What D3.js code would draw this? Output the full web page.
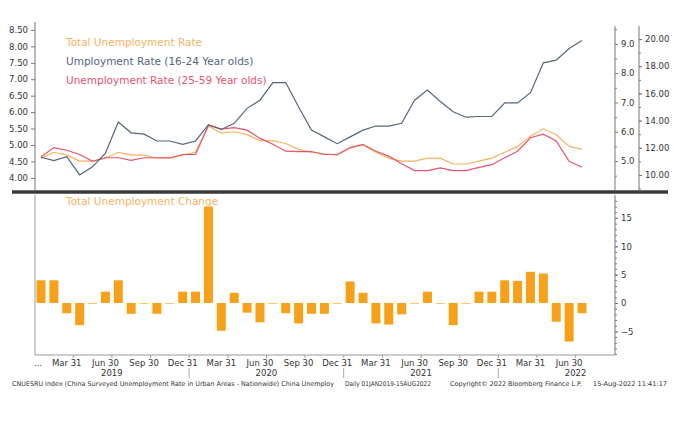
<!DOCTYPE html>
<html>
<head>
<meta charset="utf-8">
<script src="https://cdn.jsdelivr.net/npm/d3@7"></script>
<style>
  body { margin: 0; background: #fff; }
  text { font-family: 'DejaVu Sans', sans-serif; }
</style>
</head>
<body>
<div class="canvas"></div>
<script>
// monthly data, Jan 2019 .. Jul 2022
const months = d3.timeMonths(new Date(2019, 0, 1), new Date(2022, 7, 1));

const totalRate = [5.1, 5.3, 5.2, 5.0, 5.0, 5.1, 5.3, 5.2, 5.2, 5.1, 5.1, 5.2,
  5.3, 6.2, 5.95, 6.0, 5.9, 5.7, 5.7, 5.6, 5.4, 5.3, 5.25, 5.2,
  5.45, 5.55, 5.3, 5.1, 5.0, 5.0, 5.1, 5.1, 4.9, 4.9, 5.0, 5.1,
  5.3, 5.5, 5.85, 6.1, 5.9, 5.5, 5.4];

const youthRate = [11.3, 11.05, 11.35, 10.0, 10.6, 11.6, 13.9, 13.1, 13.0, 12.5, 12.5, 12.25,
  12.5, 13.7, 13.35, 13.8, 14.9, 15.5, 16.8, 16.8, 15.0, 13.3, 12.8, 12.3,
  12.8, 13.3, 13.6, 13.6, 13.8, 15.5, 16.25, 15.4, 14.65, 14.25, 14.3, 14.3,
  15.3, 15.3, 16.05, 18.25, 18.45, 19.3, 19.9];

const primeRate = [4.64, 4.92, 4.84, 4.71, 4.5, 4.61, 4.61, 4.53, 4.61, 4.61, 4.61, 4.71,
  4.71, 5.6, 5.48, 5.53, 5.45, 5.2, 5.02, 4.81, 4.8, 4.8, 4.71, 4.71,
  4.92, 5.02, 4.81, 4.66, 4.43, 4.22, 4.22, 4.3, 4.22, 4.22, 4.32, 4.4,
  4.61, 4.81, 5.22, 5.33, 5.12, 4.5, 4.32];

const totalChange = [4, 4, -1.8, -3.9, 0, 2, 4, -1.9, 0, -1.9, 0, 2,
  2, 17, -4.9, 1.8, -1.7, -3.4, 0, -1.8, -3.6, -1.9, -1.9, 0,
  3.8, 1.8, -3.6, -3.8, -2, 0, 2, 0, -3.9, 0, 2, 2,
  4, 3.9, 5.5, 5.2, -3.3, -6.8, -1.8];

const leftTicks = [4, 4.5, 5, 5.5, 6, 6.5, 7, 7.5, 8, 8.5];
const innerTicks = [5, 6, 7, 8, 9];
const outerTicks = [10, 12, 14, 16, 18, 20];
const changeTicks = [-5, 0, 5, 10, 15];
const quarterLabels = ['Mar 31', 'Jun 30', 'Sep 30', 'Dec 31'];
const years = ['2019', '2020', '2021', '2022'];

const ORANGE = '#f6b35f', BLUE = '#55657e', RED = '#e9546c', BAR = '#f7a11a', INK = '#333';

const svg = d3.select('.canvas').append('svg')
  .attr('width', 700)
  .attr('height', 439);

const x = d3.scaleLinear().domain([0, months.length - 1]).range([41, 582]);
const xl = 35, xr = 615, xr2 = 639;

// top panel scales
const yLeft = d3.scaleLinear().domain([3.69, 8.62]).range([188, 26]);
const yInner = d3.scaleLinear().domain([4.08, 9.61]).range([188, 26]);
const yOuter = d3.scaleLinear().domain([9.04, 20.96]).range([188, 26]);
// bottom panel
const yBar = d3.scaleLinear().domain([-9.17, 18.87]).range([355, 196]);

function fmt(d, n) { return d.toFixed(n); }

// left axis (top)
svg.append('g')
  .attr('transform', `translate(${xl},0)`)
  .call(d3.axisLeft(yLeft).tickValues(leftTicks).tickFormat(d => fmt(d, 2)).tickSize(4))
  .call(g => g.select('.domain').attr('d', 'M0,22V190'));

// inner right axis
svg.append('g')
  .attr('transform', `translate(${xr},0)`)
  .call(d3.axisRight(yInner).tickValues(innerTicks).tickFormat(d => fmt(d, 1)).tickSize(3))
  .call(g => g.select('.domain').attr('d', 'M0,26V190'));
svg.append('g')
  .attr('transform', `translate(${xr},0)`)
  .call(d3.axisRight(yInner).tickValues(d3.range(4.5, 9.6, 1)).tickFormat('').tickSize(2))
  .call(g => g.select('.domain').remove());

// outer right axis
svg.append('g')
  .attr('transform', `translate(${xr2},0)`)
  .call(d3.axisRight(yOuter).tickValues(outerTicks).tickFormat(d => fmt(d, 2)).tickSize(3))
  .call(g => g.select('.domain').attr('d', 'M0,26V190'));
svg.append('g')
  .attr('transform', `translate(${xr2},0)`)
  .call(d3.axisRight(yOuter).tickValues(d3.range(9, 21, 1)).tickFormat('').tickSize(2))
  .call(g => g.select('.domain').remove());

// lines
const line = (scale) => d3.line().x((d, i) => x(i)).y(d => scale(d));
svg.append('path').datum(totalRate).attr('d', line(yInner))
  .attr('fill', 'none').attr('stroke', ORANGE).attr('stroke-width', 1.2);
svg.append('path').datum(primeRate).attr('d', line(yLeft))
  .attr('fill', 'none').attr('stroke', RED).attr('stroke-width', 1.2);
svg.append('path').datum(youthRate).attr('d', line(yOuter))
  .attr('fill', 'none').attr('stroke', BLUE).attr('stroke-width', 1.2);

// legend
const legend = [['Total Unemployment Rate', ORANGE], ['Umployment Rate (16-24 Year olds)', BLUE], ['Unemployment Rate (25-59 Year olds)', RED]];
svg.selectAll('.leg').data(legend).enter().append('text')
  .attr('x', 66).attr('y', (d, i) => 46 + i * 19)
  .attr('fill', d => d[1]).style('font-size', '10.5px')
  .text(d => d[0]);

// separator
svg.append('line').attr('x1', 12).attr('x2', 668).attr('y1', 192).attr('y2', 192)
  .attr('stroke', '#3a3a3a').attr('stroke-width', 3.5);

// bottom panel axes
svg.append('line').attr('x1', xl).attr('x2', xl).attr('y1', 195).attr('y2', 355).attr('stroke', '#999');
svg.append('g')
  .attr('transform', `translate(${xr},0)`)
  .call(d3.axisRight(yBar).tickValues(changeTicks).tickFormat(d3.format('d')).tickSize(3))
  .call(g => g.select('.domain').attr('d', 'M0,195V355'));
svg.append('g')
  .attr('transform', `translate(${xr},0)`)
  .call(d3.axisRight(yBar).tickValues(d3.range(-9, 19, 1)).tickFormat('').tickSize(2))
  .call(g => g.select('.domain').remove());

// bars
svg.selectAll('.bar').data(totalChange).enter().append('rect')
  .attr('x', (d, i) => x(i) - 4.5)
  .attr('width', 9)
  .attr('y', d => yBar(Math.max(0, d)))
  .attr('height', d => Math.max(0.6, Math.abs(yBar(d) - yBar(0))))
  .attr('fill', BAR);

svg.append('text').attr('x', 66).attr('y', 205).attr('fill', ORANGE)
  .style('font-size', '10.5px').text('Total Unemployment Change');

// x axis
svg.append('line').attr('x1', xl).attr('x2', xr).attr('y1', 355).attr('y2', 355).attr('stroke', '#999');
const qIdx = d3.range(months.length).filter(i => months[i].getMonth() % 3 === 2);
svg.selectAll('.qt').data(qIdx).enter().append('line')
  .attr('x1', i => x(i) + 6.5).attr('x2', i => x(i) + 6.5)
  .attr('y1', 355).attr('y2', 358).attr('stroke', '#999');
svg.selectAll('.ql').data(qIdx).enter().append('text')
  .attr('x', i => x(i)).attr('y', 366).attr('text-anchor', 'middle')
  .attr('fill', INK).style('font-size', '8.5px')
  .text(i => quarterLabels[Math.floor(months[i].getMonth() / 3)]);
svg.append('text').attr('x', 38).attr('y', 366).attr('text-anchor', 'middle')
  .attr('fill', INK).style('font-size', '8.5px').text('...');
svg.selectAll('.yr').data(years).enter().append('text')
  .attr('x', (d, i) => x(i * 12 + 5.5)).attr('y', 376).attr('text-anchor', 'middle')
  .attr('fill', INK).style('font-size', '8.5px').text(d => d);
svg.selectAll('.ys').data(years.slice(1)).enter().append('line')
  .attr('x1', (d, i) => x((i + 1) * 12 - 0.5)).attr('x2', (d, i) => x((i + 1) * 12 - 0.5))
  .attr('y1', 368).attr('y2', 378).attr('stroke', '#aaa');

// footer
const footer = [
  ['CNUESRU Index (China Surveyed Unemployment Rate in Urban Areas - Nationwide) China Unemploy', 12, 322],
  ['Daily 01JAN2019-15AUG2022', 345, 86],
  ['Copyright\u00a9 2022 Bloomberg Finance L.P.', 450, 132],
  ['15-Aug-2022 11:41:17', 593, 74]
];
svg.append('g').attr('fill', INK).style('font-size', '6.5px')
  .selectAll('text').data(footer).enter().append('text')
  .attr('x', d => d[1]).attr('y', 386)
  .attr('textLength', d => d[2]).attr('lengthAdjust', 'spacingAndGlyphs')
  .text(d => d[0]);

svg.selectAll('.tick text').attr('fill', INK).style('font-size', '8.5px');
svg.selectAll('.tick line, .domain').attr('stroke', '#777');
</script>
</body>
</html>
